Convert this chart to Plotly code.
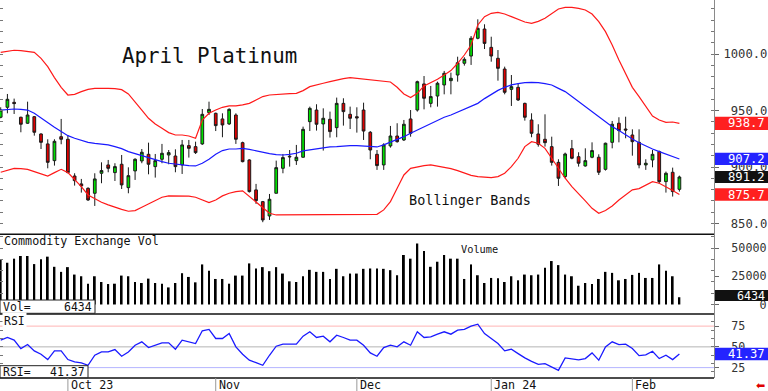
import plotly.graph_objects as go

# ---------------- data (daily, Sep 18 2023 .. Feb 12 2024) ----------------
open_ = [944.1, 952.9, 957.3, 944.1, 938.8, 944.6, 929.3, 920.5, 905.7, 926.9,
         924.6, 892.1, 885.1, 881.2, 876.8, 894.5, 901.9, 895.1, 902.5, 881.8,
         896.6, 905.4, 911.3, 900.4, 906.9, 910.7, 909.8, 901.9, 919.0, 918.1,
         920.5, 948.2, 947.6, 942.6, 938.2, 946.1, 921.6, 906.3, 879.8, 869.4,
         856.7, 876.8, 898.9, 908.9, 905.7, 908.7, 940.2, 950.5, 938.2, 942.3,
         934.9, 956.4, 946.7, 944.6, 950.5, 930.8, 911.3, 901.9, 918.7, 927.5,
         924.0, 942.6, 950.5, 973.6, 956.4, 962.9, 972.7, 976.5, 981.5, 991.9,
         998.3, 1014.0, 1022.2, 1006.0, 996.3, 986.8, 968.8, 970.6, 956.4, 941.7,
         929.3, 924.6, 918.1, 904.2, 891.6, 916.3, 909.2, 901.0, 908.7, 908.7,
         898.0, 921.9, 938.8, 933.7, 928.4, 921.9, 901.9, 906.3, 913.7, 887.1,
         895.4, 880.3]
high = [952.9, 964.7, 960.6, 944.6, 957.9, 945.2, 929.9, 924.6, 924.6, 942.6,
        928.4, 894.5, 889.5, 882.1, 894.5, 904.2, 906.3, 903.4, 910.7, 899.8,
        907.8, 916.0, 921.6, 911.6, 920.5, 915.1, 915.7, 924.0, 924.0, 922.5,
        951.4, 957.9, 948.2, 947.6, 952.0, 947.6, 922.5, 906.9, 885.1, 870.0,
        876.2, 905.7, 911.6, 915.1, 919.6, 935.8, 953.5, 955.6, 952.0, 949.1,
        961.5, 960.9, 953.5, 952.9, 957.0, 931.9, 915.1, 921.1, 936.4, 938.8,
        941.7, 950.5, 976.5, 980.6, 971.8, 975.6, 985.1, 983.6, 997.7, 997.2,
        1016.0, 1030.8, 1026.4, 1015.4, 1003.6, 988.9, 981.5, 974.2, 957.0, 947.6,
        937.9, 946.7, 926.9, 906.9, 912.8, 924.0, 913.1, 916.6, 921.9, 911.3,
        921.6, 940.8, 944.1, 944.6, 933.4, 933.4, 906.9, 915.1, 914.6, 896.0,
        899.5, 892.4]
low = [943.2, 947.6, 947.0, 930.8, 938.2, 927.8, 916.0, 898.9, 901.3, 920.2,
       894.5, 883.6, 877.4, 870.0, 865.6, 885.7, 895.4, 887.7, 880.6, 876.8,
       888.6, 903.4, 893.6, 890.7, 903.4, 902.5, 895.4, 893.9, 908.4, 911.6,
       919.6, 946.1, 931.9, 926.4, 937.3, 920.5, 904.2, 877.4, 867.4, 851.2,
       853.2, 876.8, 894.5, 900.4, 901.9, 908.4, 931.9, 932.3, 914.6, 926.1,
       926.4, 936.7, 933.7, 930.5, 924.0, 906.9, 897.5, 897.5, 917.2, 921.6,
       923.1, 926.9, 949.1, 951.1, 952.9, 953.5, 964.4, 964.4, 975.6, 989.8,
       990.4, 1013.1, 1004.5, 993.3, 976.5, 964.4, 954.1, 958.5, 941.1, 926.4,
       918.1, 918.1, 901.3, 883.3, 890.1, 906.9, 900.4, 900.4, 907.8, 893.0,
       896.9, 916.6, 921.9, 925.5, 910.1, 898.9, 897.5, 899.8, 885.1, 877.4,
       873.9, 878.3]
close = [950.5, 960.0, 956.2, 937.9, 946.1, 930.8, 921.9, 904.2, 922.8, 924.6,
         895.1, 888.0, 883.3, 870.9, 889.5, 896.9, 898.9, 900.4, 884.2, 892.4,
         906.9, 913.1, 902.5, 905.7, 912.2, 912.8, 900.4, 919.6, 916.6, 912.8,
         946.7, 951.1, 936.7, 937.3, 951.1, 924.6, 904.8, 878.3, 870.3, 853.2,
         871.5, 899.5, 908.4, 909.5, 908.7, 933.4, 952.0, 937.9, 943.2, 931.4,
         956.4, 949.1, 943.2, 943.5, 931.9, 915.1, 901.3, 919.6, 927.5, 922.5,
         937.9, 929.9, 975.6, 960.9, 962.4, 974.2, 983.0, 978.6, 992.4, 995.4,
         1014.0, 1022.8, 1009.5, 998.3, 987.4, 966.2, 971.2, 959.4, 944.1, 929.9,
         920.2, 921.6, 904.2, 890.1, 911.6, 907.8, 903.4, 905.7, 914.6, 895.4,
         921.1, 937.9, 932.3, 932.8, 922.5, 901.9, 903.4, 911.3, 887.1, 894.5,
         878.3, 891.2]

bb_upper = [1001.6, 1002.8, 1003.4, 1003.1, 1002.5, 1001.6, 996.3, 988.9, 979.2, 970.6,
            963.8, 964.4, 966.8, 968.8, 969.7, 970.0, 969.7, 969.4, 968.5, 964.7,
            957.9, 950.5, 943.2, 938.2, 934.3, 930.5, 928.4, 928.4, 927.5, 925.5,
            941.7, 947.6, 950.5, 952.9, 954.1, 954.1, 955.0, 956.4, 959.4, 962.4,
            963.8, 964.4, 964.7, 965.0, 965.3, 967.7, 971.2, 973.0, 974.2, 975.6,
            977.1, 978.3, 979.2, 978.6, 977.7, 976.8, 976.5, 976.2, 975.3, 970.6,
            964.7, 961.5, 965.3, 971.8, 974.8, 977.7, 981.5, 985.4, 991.9, 999.2,
            1008.1, 1025.8, 1033.2, 1036.1, 1037.0, 1035.5, 1033.2, 1030.8, 1028.4, 1027.3,
            1029.0, 1031.7, 1036.1, 1039.9, 1041.4, 1041.4, 1040.5, 1039.1, 1035.5, 1028.7,
            1019.9, 1008.1, 994.8, 982.4, 970.6, 962.4, 953.5, 945.2, 941.7, 939.6,
            939.9, 938.7]
bb_mid = [950.5, 951.1, 951.4, 951.1, 950.5, 947.6, 943.2, 939.3, 935.2, 931.4,
          927.8, 925.5, 923.4, 921.9, 921.0, 920.5, 919.6, 918.1, 916.3, 913.7,
          912.2, 910.1, 908.4, 906.3, 904.8, 903.4, 902.5, 901.9, 901.3, 901.0,
          903.4, 906.9, 911.3, 914.6, 916.0, 916.0, 916.6, 915.7, 914.3, 913.1,
          911.9, 911.0, 910.7, 911.3, 912.2, 914.3, 915.1, 916.3, 917.2, 917.8,
          918.1, 918.7, 919.0, 919.0, 918.7, 918.1, 917.8, 919.6, 921.9, 924.6,
          926.9, 929.9, 932.8, 935.8, 938.8, 941.1, 944.1, 946.1, 948.5, 951.1,
          953.5, 956.4, 960.6, 964.4, 967.9, 970.6, 972.7, 973.9, 974.8, 975.0,
          974.8, 973.9, 972.7, 969.7, 966.8, 962.4, 957.9, 953.5, 949.4, 944.6,
          939.9, 935.8, 932.3, 928.4, 924.9, 921.6, 918.7, 916.0, 913.7, 911.6,
          909.3, 907.2]
bb_lower = [895.4, 897.4, 898.9, 898.6, 898.0, 896.0, 893.9, 892.1, 895.1, 898.0,
            895.1, 889.2, 882.7, 875.3, 871.8, 868.8, 866.5, 864.4, 862.6, 860.9,
            861.5, 864.4, 867.4, 870.9, 873.3, 874.5, 874.5, 874.5, 874.2, 873.3,
            870.9, 868.5, 870.9, 874.5, 876.8, 878.3, 878.9, 873.9, 869.4, 864.4,
            859.1, 857.6, 857.6, 857.6, 857.6, 857.6, 857.6, 857.9, 858.2, 858.2,
            857.9, 857.6, 857.6, 857.6, 857.6, 857.6, 858.2, 862.1, 869.4, 881.2,
            893.0, 898.9, 900.4, 901.3, 901.9, 901.0, 899.8, 898.6, 896.9, 894.5,
            892.7, 891.6, 891.0, 890.7, 891.6, 894.5, 900.4, 907.8, 918.1, 922.5,
            921.1, 916.6, 907.8, 898.9, 890.1, 882.7, 875.9, 870.0, 863.5, 859.1,
            861.5, 865.6, 870.9, 875.3, 879.8, 880.9, 884.2, 887.1, 885.7, 882.7,
            879.2, 875.7]

volume = [39450, 37050, 40650, 43050, 43050, 35850, 40050, 42450, 33450, 28950,
          33150, 26550, 25050, 18450, 25050, 19950, 18150, 18450, 25650, 25050,
          19950, 19050, 22950, 19050, 18450, 15150, 19050, 27750, 24450, 19650,
          35550, 29850, 22650, 22650, 18450, 25650, 25650, 36450, 31950, 33150,
          29550, 33150, 27450, 20550, 19950, 25050, 30750, 28950, 28950, 22650,
          31650, 25050, 27450, 27450, 31650, 31950, 31950, 31650, 30450, 25950,
          43950, 40650, 54150, 47550, 33450, 37950, 43950, 40650, 40650, 22650,
          35550, 25950, 19050, 23550, 23250, 19950, 25050, 21450, 26550, 25950,
          26550, 32550, 38550, 34950, 26550, 25050, 16650, 19050, 18150, 22650,
          28950, 28050, 21450, 22650, 26250, 28050, 23550, 23550, 35550, 29850,
          25050, 6434]

rsi = [58.1, 61.3, 58.1, 48.0, 52.8, 45.2, 41.1, 34.7, 45.2, 45.2,
       34.7, 31.8, 30.6, 27.8, 39.9, 43.9, 43.9, 46.8, 38.7, 43.9,
       52.0, 56.1, 49.2, 51.6, 54.8, 54.8, 47.2, 58.1, 55.6, 54.0,
       69.4, 71.0, 60.1, 60.1, 66.1, 50.0, 41.1, 33.9, 31.0, 27.8,
       39.9, 50.8, 53.2, 53.2, 53.2, 62.9, 68.2, 61.3, 62.9, 56.1,
       64.1, 61.3, 58.1, 58.1, 52.0, 42.7, 38.7, 49.2, 52.0, 50.0,
       56.1, 52.0, 68.2, 61.3, 62.1, 65.3, 68.2, 65.3, 70.2, 71.0,
       75.0, 77.4, 66.1, 60.1, 54.0, 45.2, 47.2, 41.9, 36.7, 32.6,
       29.0, 29.8, 25.8, 21.8, 36.7, 35.5, 34.3, 35.9, 42.7, 33.9,
       50.0, 56.1, 52.8, 53.2, 48.0, 39.5, 40.3, 44.8, 35.9, 39.9,
       34.7, 41.37]

month_idx = [10, 32, 53, 73, 94]
month_labels = ["Oct 23", "Nov", "Dec", "Jan 24", "Feb"]
price_ticks = [850, 900, 950, 1000]
vol_ticks = [0, 25000, 50000]
rsi_ticks = [25, 50, 75]

x = list(range(len(close)))

MONO = "DejaVu Sans Mono"
NB = "\u00a0"

fig = go.Figure()

# Bollinger bands
fig.add_trace(go.Scatter(x=x, y=bb_upper, mode="lines", line=dict(color="#ff1a1a", width=1.2),
                         xaxis="x", yaxis="y", hoverinfo="skip", showlegend=False))
fig.add_trace(go.Scatter(x=x, y=bb_lower, mode="lines", line=dict(color="#ff1a1a", width=1.2),
                         xaxis="x", yaxis="y", hoverinfo="skip", showlegend=False))
fig.add_trace(go.Scatter(x=x, y=bb_mid, mode="lines", line=dict(color="#1a1aff", width=1.2),
                         xaxis="x", yaxis="y", hoverinfo="skip", showlegend=False))

# candles
fig.add_trace(go.Candlestick(
    x=x, open=open_, high=high, low=low, close=close,
    increasing=dict(fillcolor="#00e000", line=dict(color="#1a1a1a", width=1)),
    decreasing=dict(fillcolor="#e00000", line=dict(color="#1a1a1a", width=1)),
    whiskerwidth=0, xaxis="x", yaxis="y", hoverinfo="skip", showlegend=False))

# volume
fig.add_trace(go.Bar(x=x, y=volume, width=0.28, marker=dict(color="#000000", line=dict(width=0)),
                     xaxis="x", yaxis="y2", hoverinfo="skip", showlegend=False))

# RSI
fig.add_trace(go.Scatter(x=x, y=rsi, mode="lines", line=dict(color="#1a1aff", width=1.3),
                         xaxis="x", yaxis="y3", hoverinfo="skip", showlegend=False))

D_MAIN = [0.3802, 1.0]
D_VOL = [0.1693, 0.3802]
D_RSI = [0.0, 0.1693]

common_y = dict(side="right", anchor="x", showgrid=False, zeroline=False, automargin=False,
                showline=True, linecolor="#8a8a8a", linewidth=1, mirror="ticks",
                ticks="outside", ticklen=4, tickcolor="#666")

fig.update_layout(
    width=768, height=391,
    margin=dict(l=0, r=54, t=0, b=13, autoexpand=False),
    paper_bgcolor="white", plot_bgcolor="white",
    boxgap=0.42,
    showlegend=False,
    xaxis=dict(domain=[0, 1], range=[-0.104, 106.15], anchor="y3", showticklabels=False,
               showgrid=False, zeroline=False, ticks="", showline=False, automargin=False,
               rangeslider=dict(visible=False)),
    yaxis=dict(domain=D_MAIN, range=[840.5, 1047.9],
               tickvals=price_ticks,
               ticktext=[(NB if v < 1000 else "") + f"{v:.1f}" for v in price_ticks],
               tickfont=dict(family=MONO, size=12.2, color="#333"),
               minor=dict(dtick=10, ticks="inside", ticklen=3, tickcolor="#777", showgrid=False),
               ticklabelstandoff=2,
               **common_y),
    yaxis2=dict(domain=D_VOL, range=[-8450, 62300],
                tickvals=vol_ticks,
                ticktext=[NB * (5 - len(str(v))) + str(v) for v in vol_ticks],
                tickfont=dict(family=MONO, size=11.7, color="#333"),
                minor=dict(dtick=10000, ticks="inside", ticklen=3, tickcolor="#777", showgrid=False),
                ticklabelstandoff=10,
                **common_y),
    yaxis3=dict(domain=D_RSI, range=[12.5, 89.6],
                tickvals=rsi_ticks, ticktext=[str(v) for v in rsi_ticks],
                tickfont=dict(family=MONO, size=11.7, color="#333"),
                minor=dict(dtick=10, ticks="inside", ticklen=3, tickcolor="#777", showgrid=False),
                ticklabelstandoff=10,
                **common_y),
)

shapes = []
# RSI reference lines
for lvl, col in [(75, "#ffb4b4"), (50, "#b4b4b4"), (25, "#b4b4ff")]:
    shapes.append(dict(type="line", xref="paper", yref="y3", x0=0, x1=1, y0=lvl, y1=lvl,
                       line=dict(color=col, width=1), layer="below"))
# panel separators
for yy in [D_RSI[0], D_VOL[0], D_MAIN[0]]:
    shapes.append(dict(type="line", xref="paper", yref="paper", x0=0, x1=1, y0=yy, y1=yy,
                       line=dict(color="#111", width=1.5), layer="above"))
# month tick marks below
for mi in month_idx:
    shapes.append(dict(type="line", xref="x", yref="paper", x0=mi, x1=mi, y0=0, y1=-0.036,
                       line=dict(color="#999", width=1), layer="above"))
# Vol= and RSI= boxes
shapes.append(dict(type="rect", xref="paper", yref="paper", x0=0, x1=95 / 714,
                   y0=(378 - 313.3) / 378, y1=(378 - 300) / 378,
                   fillcolor="white", line=dict(color="#222", width=1), layer="above"))
shapes.append(dict(type="rect", xref="paper", yref="paper", x0=0, x1=88 / 714,
                   y0=(378 - 377.7) / 378, y1=(378 - 365.7) / 378,
                   fillcolor="white", line=dict(color="#222", width=1), layer="above"))

BX0, BX1, BXT = 715 / 714, 768 / 714, 766.7 / 714
annotations = []


def value_box(val, yref, half, color, text):
    shapes.append(dict(type="rect", xref="paper", yref=yref, x0=BX0, x1=BX1,
                       y0=val - half, y1=val + half, fillcolor=color,
                       line=dict(width=0), layer="above"))
    annotations.append(dict(xref="paper", yref=yref, x=BXT, y=val, text=text,
                            xanchor="right", yanchor="middle", showarrow=False,
                            font=dict(family=MONO, size=12.2, color="white")))


value_box(bb_upper[-1], "y", 5.8, "#ff2020", f"{bb_upper[-1]:.1f}")
value_box(bb_mid[-1], "y", 5.4, "#2424ff", f"{bb_mid[-1]:.1f}")
value_box(close[-1], "y", 5.4, "#111111", f"{close[-1]:.1f}")
value_box(bb_lower[-1], "y", 5.6, "#ff2020", f"{bb_lower[-1]:.1f}")
value_box(rsi[-1], "y3", 7.6, "#2424ff", f"{rsi[-1]:.2f}")
# volume box (positioned at the panel foot)
shapes.append(dict(type="rect", xref="paper", yref="paper", x0=BX0, x1=BX1,
                   y0=(378 - 301) / 378, y1=(378 - 290) / 378, fillcolor="#111111",
                   line=dict(width=0), layer="above"))
annotations.append(dict(xref="paper", yref="paper", x=BXT, y=(378 - 295.5) / 378,
                        text=str(volume[-1]), xanchor="right", yanchor="middle", showarrow=False,
                        font=dict(family=MONO, size=11.7, color="white")))

# titles and labels
annotations += [
    dict(xref="paper", yref="paper", x=209.5 / 714, y=(378 - 56) / 378, text="April Platinum",
         showarrow=False, xanchor="center", yanchor="middle",
         font=dict(family=MONO, size=20.8, color="#111")),
    dict(xref="paper", yref="paper", x=470 / 714, y=(378 - 199.5) / 378, text="Bollinger Bands",
         showarrow=False, xanchor="center", yanchor="middle",
         font=dict(family=MONO, size=13.5, color="#111")),
    dict(xref="paper", yref="paper", x=2 / 714, y=(378 - 241.5) / 378, text="Commodity Exchange Vol",
         showarrow=False, xanchor="left", yanchor="middle",
         font=dict(family=MONO, size=11.7, color="#111")),
    dict(xref="paper", yref="paper", x=459 / 714, y=(378 - 249) / 378, text="Volume",
         showarrow=False, xanchor="left", yanchor="middle",
         font=dict(family=MONO, size=10.3, color="#111")),
    dict(xref="paper", yref="paper", x=1 / 714, y=(378 - 306.7) / 378, text="Vol=",
         showarrow=False, xanchor="left", yanchor="middle",
         font=dict(family=MONO, size=11.5, color="#111")),
    dict(xref="paper", yref="paper", x=93.5 / 714, y=(378 - 306.7) / 378, text=str(volume[-1]),
         showarrow=False, xanchor="right", yanchor="middle",
         font=dict(family=MONO, size=11.5, color="#111")),
    dict(xref="paper", yref="paper", x=2 / 714, y=(378 - 320.5) / 378, text="RSI",
         showarrow=False, xanchor="left", yanchor="middle", bgcolor="white",
         font=dict(family=MONO, size=11.5, color="#111")),
    dict(xref="paper", yref="paper", x=1 / 714, y=(378 - 371.7) / 378, text="RSI=",
         showarrow=False, xanchor="left", yanchor="middle",
         font=dict(family=MONO, size=11.5, color="#111")),
    dict(xref="paper", yref="paper", x=86.5 / 714, y=(378 - 371.7) / 378, text=f"{rsi[-1]:.2f}",
         showarrow=False, xanchor="right", yanchor="middle",
         font=dict(family=MONO, size=11.5, color="#111")),
    dict(xref="paper", yref="paper", x=760.5 / 714, y=(378 - 385) / 378, text="⬅",
         showarrow=False, xanchor="center", yanchor="middle",
         font=dict(family="DejaVu Sans", size=11, color="#e00000")),
]
for mi, lab in zip(month_idx, month_labels):
    annotations.append(dict(xref="x", yref="paper", x=mi + 0.15, y=(378 - 385) / 378, text=lab,
                            showarrow=False, xanchor="left", yanchor="middle",
                            font=dict(family=MONO, size=11.7, color="#111")))

fig.update_layout(shapes=shapes, annotations=annotations)
fig.write_html("out.html", config={"displayModeBar": False},
               post_script="document.body.style.margin='0';document.body.style.padding='0';"
                           "document.body.style.overflow='hidden';")
